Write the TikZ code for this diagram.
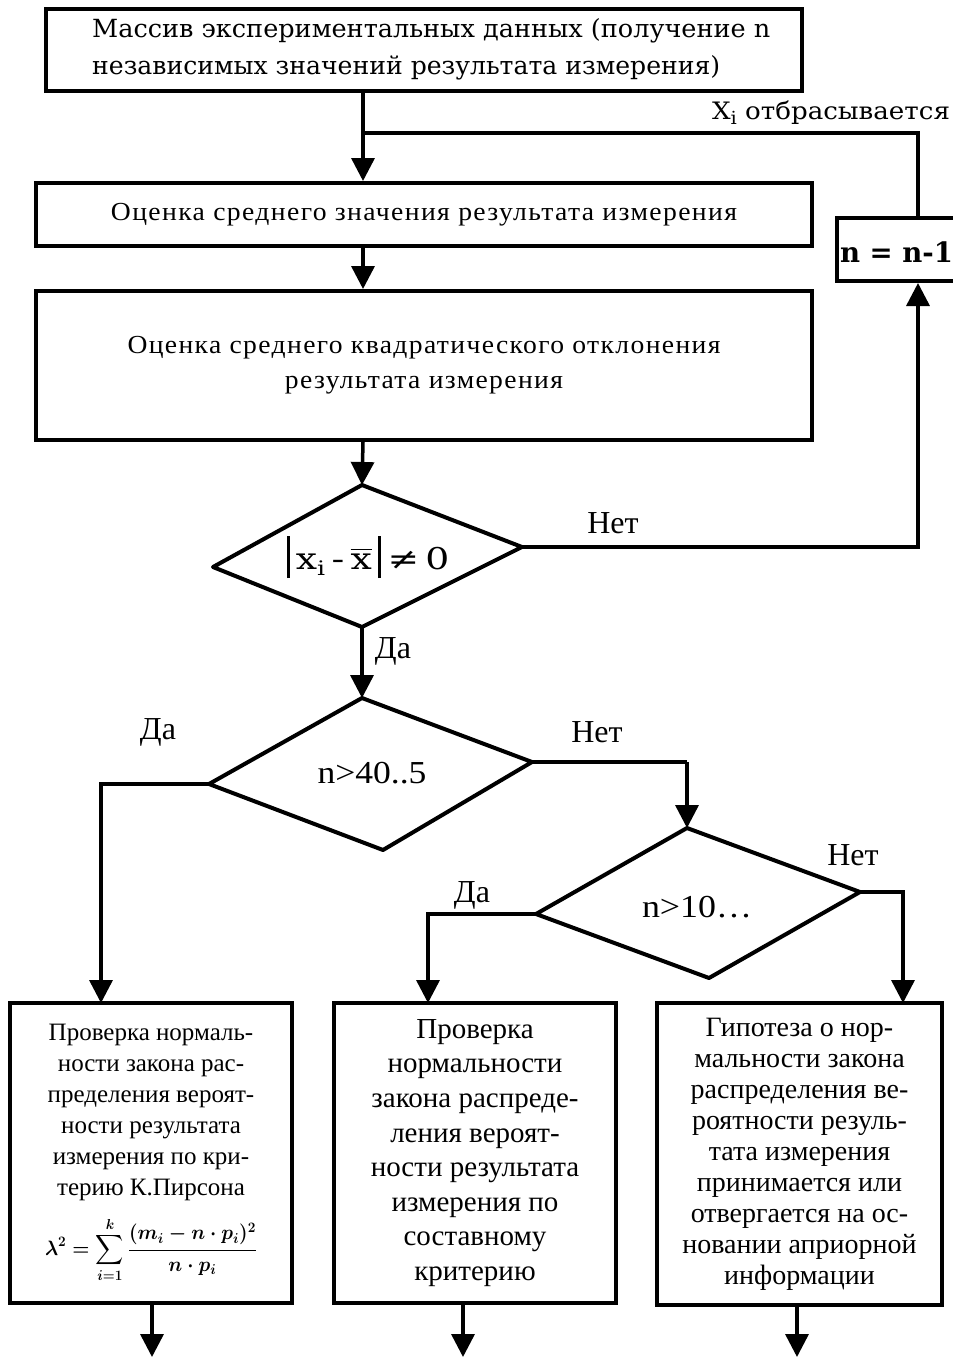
\documentclass[tikz,border=0pt]{standalone}
\usepackage{exscale}
\usepackage{fontspec}
\usepackage{graphicx}
\setmainfont{Liberation Serif}
\newfontfamily\slab{DejaVu Serif}
\usetikzlibrary{arrows.meta}
\newsavebox\fitbox
\newcommand\hfit[2]{\sbox\fitbox{#2}\pgfmathsetmacro\fitfac{#1/\the\wd\fitbox}\scalebox{\fitfac}[1]{\usebox\fitbox}}
\begin{document}
\begin{tikzpicture}[x=1pt,y=-1pt,
  bx/.style={draw, line width=4pt, inner sep=0pt, align=center},
  ln/.style={line width=3.5pt, line join=miter},
  arr/.style={ln, -{Triangle[width=23pt,length=23pt]}},
  dia/.style={draw, line width=4pt, line join=round},
  lbl/.style={inner sep=0pt, font=\fontsize{32}{32}\selectfont},
  txt/.style={inner sep=0pt, align=center},
]
\useasboundingbox (0,0) rectangle (953,1358);

% top box
\node[bx, line width=4.5pt, minimum width=756pt, minimum height=82pt] (top) at (424,50) {};
\node[txt, anchor=west, align=left, font=\slab\fontsize{25}{37}\selectfont] (topt) at (92,49)
  {\hfit{678}{Массив экспериментальных данных (получение n}\\\hfit{628}{независимых значений результата измерения)}};

% box 2
\node[bx, minimum width=776pt, minimum height=63pt, font=\fontsize{26}{30}\selectfont] (b2) at (424,214.5)
  {\hfit{626}{\addfontfeatures{LetterSpace=5}Оценка среднего значения результата измерения}};

% box 3
\node[bx, minimum width=776pt, minimum height=149pt, font=\fontsize{26}{35}\selectfont] (b3) at (424,365.5)
  {\hfit{593}{\addfontfeatures{LetterSpace=5}Оценка среднего квадратического отклонения}\\
   \hfit{278}{\addfontfeatures{LetterSpace=5}результата измерения}};

% n = n-1 box
\node[bx, minimum width=140pt, minimum height=63pt] (nb) at (907,249.5) {};
\node[txt, font=\slab\bfseries\fontsize{28}{28}\selectfont] (nbt) at (896.5,252) {\hfit{113}{n = n-1}};

% loop label
\node[txt, font=\slab\fontsize{24}{24}\selectfont] (drop) at (831,113)
  {\hfit{238}{X\raisebox{-5pt}{\fontsize{18}{18}\selectfont i} отбрасывается}};

% coordinates for connectors
\coordinate (join) at (363,133);
\coordinate (back) at (918,133);

% diamond 1
\coordinate (d1t) at (362,485);
\coordinate (d1r) at (522,547);
\coordinate (d1b) at (362,627);
\coordinate (d1l) at (213,567);
\draw[dia] (d1t) -- (d1r) -- (d1b) -- (d1l) -- cycle;
\node[txt, font=\slab\fontsize{30}{30}\selectfont] (d1x) at (368,557)
  {\hfit{163}{\rule[-9pt]{2.5pt}{42pt}\,x\raisebox{-6pt}{\fontsize{20}{20}\selectfont i}\,-\,$\overline{\hbox{x}}$\,\rule[-9pt]{2.5pt}{42pt}\,≠\,0}};

% diamond 2
\coordinate (d2t) at (362,698);
\coordinate (d2r) at (532,762);
\coordinate (d2b) at (383,850);
\coordinate (d2l) at (209,784);
\draw[dia] (d2t) -- (d2r) -- (d2b) -- (d2l) -- cycle;
\node[txt, font=\fontsize{32}{32}\selectfont] (d2x) at (372,773) {\hfit{109}{n>40..5}};

% diamond 3
\coordinate (d3t) at (687,828);
\coordinate (d3r) at (860,892);
\coordinate (d3b) at (709,978);
\coordinate (d3l) at (536,914);
\draw[dia] (d3t) -- (d3r) -- (d3b) -- (d3l) -- cycle;
\node[txt, font=\fontsize{32}{32}\selectfont] (d3x) at (697,907) {\hfit{110}{n>10…}};

% bottom boxes
\node[bx, minimum width=282pt, minimum height=300pt, font=\fontsize{25}{31}\selectfont] (bA) at (151,1153)
  {Проверка нормаль-\\ности закона рас-\\пределения вероят-\\ности результата\\измерения по кри-\\терию К.Пирсона\\[16pt]
   {\boldmath\fontsize{20}{20}\selectfont\hfit{212}{$\displaystyle \lambda^2=\sum_{i=1}^{k}\frac{(m_i-n\cdot p_i)^2}{n\cdot p_i}$}}};
\node[bx, minimum width=282pt, minimum height=300pt, font=\fontsize{29}{34.6}\selectfont] (bB) at (475,1153)
  {Проверка\\нормальности\\закона распреде-\\ления вероят-\\ности результата\\измерения по\\составному\\критерию};
\node[bx, minimum width=285pt, minimum height=302pt, font=\fontsize{28}{31}\selectfont] (bC) at (799.5,1154)
  {Гипотеза о нор-\\мальности закона\\распределения ве-\\роятности резуль-\\тата измерения\\принимается или\\отвергается на ос-\\новании априорной\\информации};

\coordinate (xA) at (101,1003);
\coordinate (xB) at (428,1003);
\coordinate (xC) at (903,1003);
\coordinate (j2) at (687,762);
\coordinate (eA) at (152,1357);
\coordinate (eB) at (463,1357);
\coordinate (eC) at (797,1357);

% connectors
\draw[ln] (top.south -| join) -- (join);
\draw[ln] (nb.north -| back) -- (back) -- (join);
\draw[arr] (join) -- (b2.north -| join);
\draw[arr] (b2.south -| join) -- (b3.north -| join);
\draw[arr] (b3.south -| join) -- (d1t);
\draw[arr] (d1r) -| (nb.south -| back);
\draw[arr] (d1b) -- (d2t);
\draw[arr] (d2l) -| (xA);
\draw[ln] (d2r) -- (j2);
\draw[arr] (j2) -- (d3t);
\draw[arr] (d3l) -| (xB);
\draw[arr] (d3r) -| (xC);
\draw[arr] (bA.south -| eA) -- (eA);
\draw[arr] (bB.south -| eB) -- (eB);
\draw[arr] (bC.south -| eC) -- (eC);

% labels
\node[lbl] (l1) at (613,523) {Нет};
\node[lbl] (l2) at (393,651) {Да};
\node[lbl] (l3) at (158,732) {Да};
\node[lbl] (l4) at (597,732) {Нет};
\node[lbl] (l5) at (472,895) {Да};
\node[lbl] (l6) at (853,855) {Нет};
\end{tikzpicture}
\end{document}
